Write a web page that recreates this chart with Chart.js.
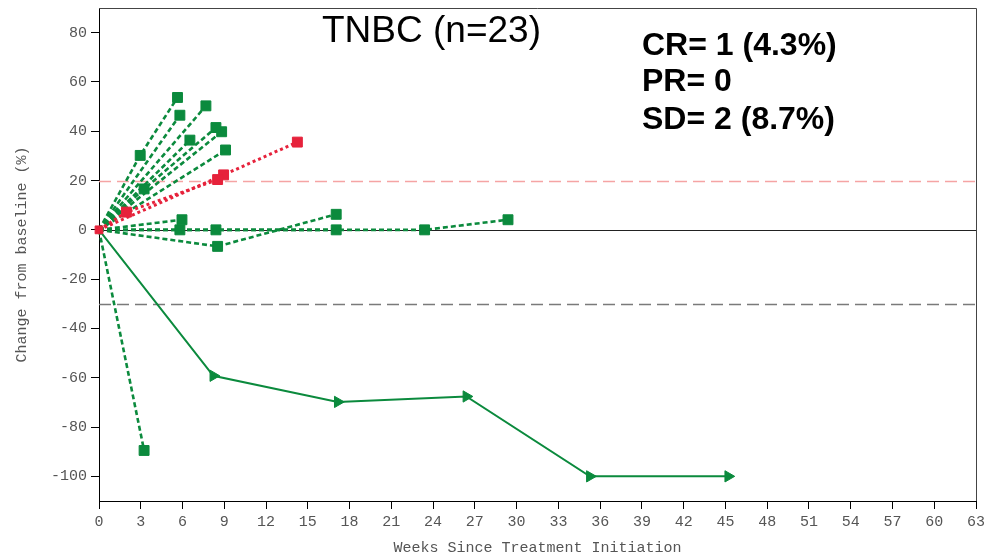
<!DOCTYPE html>
<html>
<head>
<meta charset="utf-8">
<title>TNBC spider plot</title>
<script src="https://cdn.jsdelivr.net/npm/chart.js@4.4.0/dist/chart.umd.min.js"></script>
<style>
  html, body { margin: 0; padding: 0; background: #fff; }
  #wrap { position: relative; width: 987px; height: 560px; }
</style>
</head>
<body>
<div id="wrap"><canvas id="spider"></canvas></div>
<script>
// ─── Data: weeks since start / % change from baseline ──────
// progressing / stable patients (dotted green)
const weeksA = [0, 2.96, 5.64];        const changeA = [0, 30.2, 53.7];
const weeksB = [0, 5.81];              const changeB = [0, 46.5];
const weeksC = [0, 7.68];              const changeC = [0, 50.3];
const weeksD = [0, 3.24, 8.40];        const changeD = [0, 16.6, 41.5];
const weeksE = [0, 8.81];              const changeE = [0, 39.8];
const weeksF = [0, 6.53];              const changeF = [0, 36.4];
const weeksG = [0, 9.09];              const changeG = [0, 32.4];
const weeksH = [0, 5.96];              const changeH = [0, 4.1];
const weeksI = [0, 5.81, 17.04];       const changeI = [0, 0, 0];
const weeksJ = [0, 8.40, 23.39, 29.38]; const changeJ = [0, 0, 0, 4.1];
const weeksK = [0, 8.52, 17.04];       const changeK = [0, -6.7, 6.3];
const weeksL = [0, 3.24];              const changeL = [0, -89.5];
// complete responder (solid green, triangles)
const weeksCR = [0, 8.21, 17.15, 26.39, 35.26, 45.2];
const changeCR = [0, -59.2, -69.8, -67.6, -100, -100];
// red dotted
const weeksR1 = [0, 1.97, 8.52];       const changeR1 = [0, 7.2, 20.4];
const weeksR2 = [0, 8.95, 14.25];      const changeR2 = [0, 22.3, 35.6];

const xTicks = [0, 3, 6, 9, 12, 15, 18, 21, 24, 27, 30, 33, 36, 39, 42, 45, 48, 51, 54, 57, 60, 63];
const yTicks = [-100, -80, -60, -40, -20, 0, 20, 40, 60, 80];
const progressionLine = 20;
const responseLine = -30;

const GREEN = '#0b8a3d';
const RED = '#e6223b';
const MONO = "'Liberation Mono', 'Courier New', monospace";

function pts(weeks, change) {
  return weeks.map((w, i) => ({ x: w, y: change[i] }));
}

function dottedLine(weeks, change, color, width, dash, firstRadius) {
  return {
    data: pts(weeks, change),
    borderColor: color,
    backgroundColor: color,
    borderWidth: width,
    borderDash: dash,
    pointStyle: 'rect',
    pointRadius: weeks.map((w, i) => i === 0 ? firstRadius : 7),
    pointBorderWidth: 1,
    pointBorderColor: color,
    pointBackgroundColor: color,
    tension: 0,
    clip: false,
    order: color === RED ? 0 : 1
  };
}

const datasets = [
  dottedLine(weeksR1, changeR1, RED, 3, [3, 3], 5.5),
  dottedLine(weeksR2, changeR2, RED, 3, [3, 3], 0),
  ...[[weeksA, changeA], [weeksB, changeB], [weeksC, changeC], [weeksD, changeD],
      [weeksE, changeE], [weeksF, changeF], [weeksG, changeG], [weeksH, changeH],
      [weeksI, changeI], [weeksJ, changeJ], [weeksK, changeK], [weeksL, changeL]]
    .map(([w, c]) => dottedLine(w, c, GREEN, 2.6, [5, 3], 0)),
  {
    data: pts(weeksCR, changeCR),
    borderColor: GREEN,
    backgroundColor: GREEN,
    borderWidth: 2,
    pointStyle: 'triangle',
    rotation: 90,
    pointRadius: weeksCR.map((w, i) => i === 0 ? 0 : 6.5),
    pointBorderWidth: 1,
    tension: 0,
    clip: false,
    order: 1
  }
];

// ─── Reference lines, frame and labels ─────────────────────
const decorations = {
  id: 'decorations',
  beforeDatasetsDraw(chart) {
    const { ctx, chartArea: a, scales: { y } } = chart;
    const hline = (val, color, width, dash) => {
      const py = Math.round(y.getPixelForValue(val)) + 0.5;
      ctx.save();
      ctx.strokeStyle = color;
      ctx.lineWidth = width;
      ctx.setLineDash(dash);
      ctx.beginPath();
      ctx.moveTo(a.left, py);
      ctx.lineTo(a.right, py);
      ctx.stroke();
      ctx.restore();
    };
    hline(progressionLine, '#f5a4a4', 1.5, [12, 6]);
    hline(responseLine, '#7a7a7a', 1.5, [12, 6]);
    hline(0, '#222', 1.2, []);
  },
  afterDraw(chart) {
    const { ctx, chartArea: a } = chart;
    ctx.save();
    ctx.strokeStyle = '#444';
    ctx.lineWidth = 1;
    ctx.beginPath();
    ctx.moveTo(a.left, a.top + 0.5);
    ctx.lineTo(a.right + 0.5, a.top + 0.5);
    ctx.lineTo(a.right + 0.5, a.bottom);
    ctx.stroke();

    ctx.fillStyle = '#000';
    ctx.textBaseline = 'alphabetic';
    ctx.font = "37px 'Liberation Sans', Arial, sans-serif";
    ctx.fillText('TNBC (n=23)', 322, 42);
    ctx.font = "bold 32px 'Liberation Sans', Arial, sans-serif";
    ctx.fillText('CR= 1 (4.3%)', 642, 55);
    ctx.fillText('PR= 0', 642, 91);
    ctx.fillText('SD= 2 (8.7%)', 642, 129);
    ctx.restore();
  }
};

function axis(min, max, tickList, title, fitFn) {
  return {
    type: 'linear',
    min: min,
    max: max,
    afterBuildTicks: s => { s.ticks = tickList.map(v => ({ value: v })); },
    afterFit: fitFn,
    grid: { display: true, drawOnChartArea: false, drawTicks: true, tickLength: 8, color: '#000', lineWidth: 1 },
    border: { display: true, color: '#000', width: 1 },
    ticks: { autoSkip: false, maxRotation: 0, padding: 4, color: '#555', font: { family: MONO, size: 15 } },
    title: { display: true, text: title, color: '#555', font: { family: MONO, size: 15 } }
  };
}

const xScale = axis(0, 63, xTicks, 'Weeks Since Treatment Initiation', s => {
  s.height = 59; s.paddingLeft = 0; s.paddingRight = 0;
});
xScale.title.padding = { top: 0, bottom: 3 };

const yScale = axis(-110, 90, yTicks, 'Change from baseline (%)', s => {
  s.width = 99; s.paddingTop = 0; s.paddingBottom = 0;
});
yScale.title.padding = { top: 13, bottom: 0 };

new Chart(document.getElementById('spider'), {
  type: 'line',
  data: { datasets },
  options: {
    responsive: true,
    maintainAspectRatio: false,
    animation: false,
    events: [],
    layout: { padding: { top: 6, right: 11, left: 0, bottom: 0 } },
    plugins: { legend: { display: false }, tooltip: { enabled: false }, title: { display: false } },
    scales: { x: xScale, y: yScale }
  },
  plugins: [decorations]
});
</script>
</body>
</html>
